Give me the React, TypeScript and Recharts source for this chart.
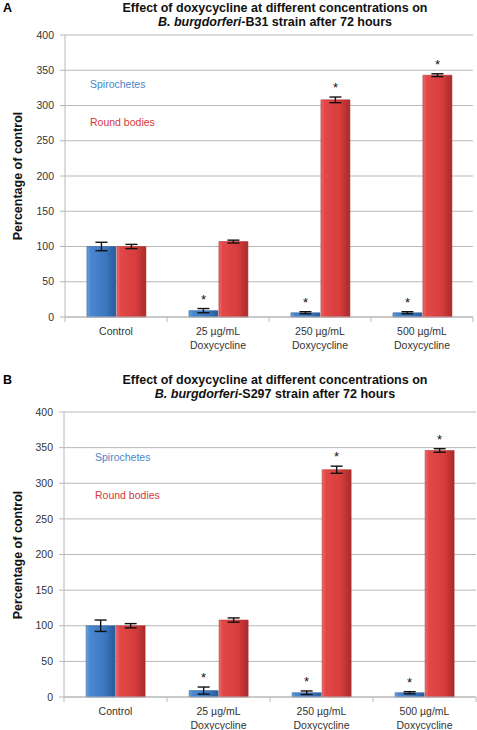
import React from 'react';
import { BarChart, Bar, XAxis, YAxis, CartesianGrid, ErrorBar, LabelList } from 'recharts';

const categories = ['Control', '25 µg/mL|Doxycycline', '250 µg/mL|Doxycycline', '500 µg/mL|Doxycycline'];
const yTicks = [0, 50, 100, 150, 200, 250, 300, 350, 400];

// panel A - B31
const spiroA = [100, 9, 6, 6];
const spiroErrA = [6, 3, 1.5, 1.5];
const roundA = [100, 107, 308, 343];
const roundErrA = [3, 2, 4, 2];
const spiroSigA = [false, true, true, true];
const roundSigA = [false, false, true, true];

// panel B - S297
const spiroB = [100, 9, 6, 6];
const spiroErrB = [8, 5, 2.5, 1.5];
const roundB = [100, 108, 319, 346];
const roundErrB = [3, 3, 5, 2.5];
const spiroSigB = [false, true, true, true];
const roundSigB = [false, false, true, true];

const FONT = '"Liberation Sans", Arial, sans-serif';
const GRID = '#b8b8b8';

const buildRows = (s: number[], se: number[], r: number[], re: number[], ss: boolean[], rs: boolean[]) =>
  categories.map((c, i) => ({
    name: c,
    spiro: s[i], spiroErr: se[i], spiroSig: ss[i] ? '*' : '',
    round: r[i], roundErr: re[i], roundSig: rs[i] ? '*' : '',
  }));

const makeStar = (errKey: string, rows: any[]) => (props: any) => {
  const { x, y, width, height, value, index } = props;
  if (!value) return null;
  const row = rows[index];
  const v = row[errKey === 'spiroErr' ? 'spiro' : 'round'];
  const errPx = (row[errKey] * height) / v;
  return (
    <text x={x + width / 2} y={y - errPx - 12 + 7} textAnchor="middle" fontSize={13} fontFamily={FONT} fill="#111">
      *
    </text>
  );
};

const makeTick = (band: number) => (props: any) => {
  const { x, y, payload, index } = props;
  const lines = String(payload.value).split('|');
  return (
    <g>
      <line x1={x - band / 2} x2={x - band / 2} y1={y} y2={y + 5} stroke={GRID} />
      {index === categories.length - 1 && (
        <line x1={x + band / 2} x2={x + band / 2} y1={y} y2={y + 5} stroke={GRID} />
      )}
      {lines.map((l, i) => (
        <text key={i} x={x} y={y + 18 + i * 13.5} textAnchor="middle" fontSize={10.5} fontFamily={FONT} fill="#333">
          {l}
        </text>
      ))}
    </g>
  );
};

type PanelProps = {
  letter: string;
  strain: string;
  rows: any[];
  top: number;
  titleTop: number;
  plotTop: number;
  yAxisW: number;
  right: number;
  xAxisH: number;
  legendTop: number;
  legendLeft: number;
};

const Panel = ({ letter, strain, rows, top, titleTop, plotTop, yAxisW, right, xAxisH, legendTop, legendLeft }: PanelProps) => {
  const W = 477;
  const H = 365;
  const band = (W - yAxisW - right) / categories.length;
  const plotH = H - plotTop - xAxisH;
  return (
    <div style={{ position: 'absolute', left: 0, top, width: W, height: H, fontFamily: FONT }}>
      <div style={{ position: 'absolute', left: 3, top: titleTop, fontWeight: 'bold', fontSize: 12.5, lineHeight: '14px' }}>{letter}</div>
      <div
        style={{
          position: 'absolute', left: 75, width: 400, top: titleTop, textAlign: 'center',
          fontWeight: 'bold', fontSize: 12.5, lineHeight: '14px', color: '#111',
        }}
      >
        Effect of doxycycline at different concentrations on
        <br />
        <i>B. burgdorferi</i>-{strain} strain after 72 hours
      </div>
      <div
        style={{
          position: 'absolute', left: 18, top: plotTop + plotH / 2, transform: 'translate(-50%, -50%) rotate(-90deg)',
          whiteSpace: 'nowrap', fontWeight: 'bold', fontSize: 12.5, color: '#111',
        }}
      >
        Percentage of control
      </div>
      <div style={{ position: 'absolute', left: legendLeft, top: plotTop + legendTop, fontSize: 10.5, color: '#4a86c8' }}>
        Spirochetes
      </div>
      <div style={{ position: 'absolute', left: legendLeft, top: plotTop + legendTop + 38, fontSize: 10.5, color: '#d43a3a' }}>
        Round bodies
      </div>
      <BarChart
        width={W}
        height={H}
        data={rows}
        margin={{ top: plotTop, right, left: 0, bottom: 0 }}
        barCategoryGap="21.5%"
        barGap={1}
      >
        <defs>
          <linearGradient id={`blue${letter}`} x1="0" y1="0" x2="1" y2="0">
            <stop offset="0%" stopColor="#6ea3dd" />
            <stop offset="12%" stopColor="#4b88d0" />
            <stop offset="65%" stopColor="#3b77c0" />
            <stop offset="100%" stopColor="#285a98" />
          </linearGradient>
          <linearGradient id={`red${letter}`} x1="0" y1="0" x2="1" y2="0">
            <stop offset="0%" stopColor="#f06c6c" />
            <stop offset="12%" stopColor="#e24848" />
            <stop offset="65%" stopColor="#d83d3d" />
            <stop offset="100%" stopColor="#a82a2a" />
          </linearGradient>
        </defs>
        <CartesianGrid vertical={false} stroke={GRID} />
        <XAxis
          dataKey="name"
          height={xAxisH}
          tick={makeTick(band)}
          tickLine={false}
          tickSize={0}
          tickMargin={0}
          axisLine={{ stroke: GRID }}
          interval={0}
        />
        <YAxis
          width={yAxisW}
          domain={[0, 400]}
          ticks={yTicks}
          tickSize={5}
          tickMargin={6}
          tickLine={{ stroke: GRID }}
          axisLine={{ stroke: GRID }}
          tick={{ fill: '#333', fontSize: 10.5, fontFamily: FONT }}
        />
        <Bar dataKey="spiro" fill={`url(#blue${letter})`} stroke="#2f649f" strokeWidth={0.6} isAnimationActive={false}>
          <ErrorBar dataKey="spiroErr" width={6} stroke="#111" strokeWidth={1.4} />
          <LabelList dataKey="spiroSig" content={makeStar('spiroErr', rows)} />
        </Bar>
        <Bar dataKey="round" fill={`url(#red${letter})`} stroke="#b33333" strokeWidth={0.6} isAnimationActive={false}>
          <ErrorBar dataKey="roundErr" width={6} stroke="#111" strokeWidth={1.4} />
          <LabelList dataKey="roundSig" content={makeStar('roundErr', rows)} />
        </Bar>
      </BarChart>
    </div>
  );
}

const rowsA = buildRows(spiroA, spiroErrA, roundA, roundErrA, spiroSigA, roundSigA);
const rowsB = buildRows(spiroB, spiroErrB, roundB, roundErrB, spiroSigB, roundSigB);

export default function App() {
  return (
    <div style={{ position: 'absolute', left: 0, top: 0, width: 477, height: 730, background: '#fff' }}>
      <Panel letter="A" strain="B31" rows={rowsA} top={0} titleTop={1} plotTop={35} yAxisW={65} right={4} xAxisH={48} legendTop={43} legendLeft={90} />
      <Panel letter="B" strain="S297" rows={rowsB} top={365} titleTop={8} plotTop={47} yAxisW={64} right={1} xAxisH={33} legendTop={39} legendLeft={95} />
    </div>
  );
}
